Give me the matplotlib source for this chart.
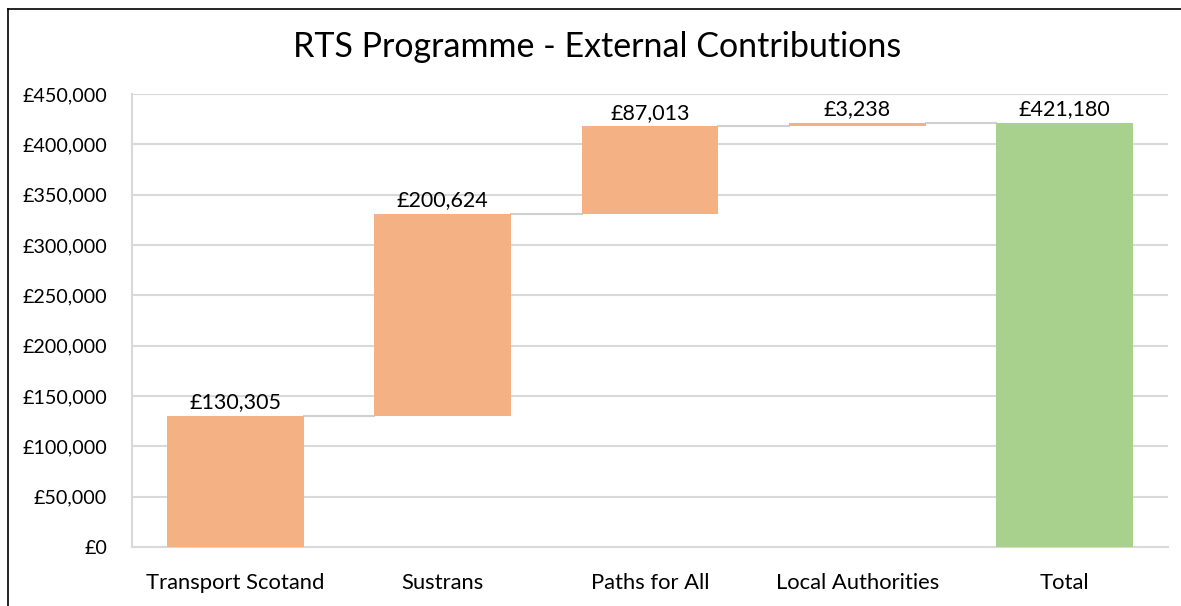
import matplotlib
matplotlib.use("Agg")
import matplotlib.pyplot as plt
from matplotlib.lines import Line2D
from matplotlib.ticker import FuncFormatter

categories = ["Transport Scotand", "Sustrans", "Paths for All", "Local Authorities", "Total"]
contributions = [130305, 200624, 87013, 3238]
total = 421180
yticks = [0, 50000, 100000, 150000, 200000, 250000, 300000, 350000, 400000, 450000]

plt.rcParams['font.family'] = ['Lato', 'DejaVu Sans']

fig = plt.figure(figsize=(11.81, 6.06), dpi=100)
ax = fig.add_axes([132/1181, 1-547/606, (1168-132)/1181, (547-94)/606])

orange = "#F4B183"
green = "#A9D18E"
grid = "#D9D9D9"
width = 0.66

bottoms = []
cum = 0
for v in contributions:
    bottoms.append(cum)
    cum += v

x = list(range(len(categories)))
ax.bar(x[:-1], contributions, bottom=bottoms, width=width, color=orange, zorder=3)
ax.bar(x[-1], total, width=width, color=green, zorder=3)

# connectors
levels = [b + v for b, v in zip(bottoms, contributions)]
for i, lvl in enumerate(levels):
    ax.plot([i + width/2, i + 1 - width/2], [lvl, lvl], color="#D0D0D0", lw=1.5, zorder=2)

# labels
for i, (b, v) in enumerate(zip(bottoms, contributions)):
    ax.text(i, b + v + 3500, f"£{v:,}", ha="center", va="bottom", fontsize=15.5, color="#000000")
ax.text(x[-1], total + 3500, f"£{total:,}", ha="center", va="bottom", fontsize=15.5, color="#000000")

ax.set_xlim(-0.5, len(categories) - 0.5)
ax.set_ylim(0, 450000)
ax.set_yticks(yticks)
ax.yaxis.set_major_formatter(FuncFormatter(lambda v, p: f"£{int(v):,}"))
ax.set_xticks(x)
ax.set_xticklabels(categories)
ax.tick_params(axis="both", length=0, colors="#000000")
ax.tick_params(axis="y", pad=18, labelsize=14.2)
ax.tick_params(axis="x", pad=19, labelsize=15.8)
ax.grid(axis="y", color=grid, lw=1.5, zorder=0)
for s in ["top", "right"]:
    ax.spines[s].set_visible(False)
for s in ["left", "bottom"]:
    ax.spines[s].set_color(grid)
    ax.spines[s].set_linewidth(1.5)

fig.text(597/1181, 1-47/606, "RTS Programme - External Contributions", ha="center", va="center", fontsize=24.5)

# outer border (top and left visible)
fig.add_artist(Line2D([8/1181, 8/1181], [0, 1-9/606], color="black", lw=1.2, transform=fig.transFigure))
fig.add_artist(Line2D([8/1181, 1], [1-9/606, 1-9/606], color="black", lw=1.2, transform=fig.transFigure))

fig.savefig("out.png", dpi=100)
